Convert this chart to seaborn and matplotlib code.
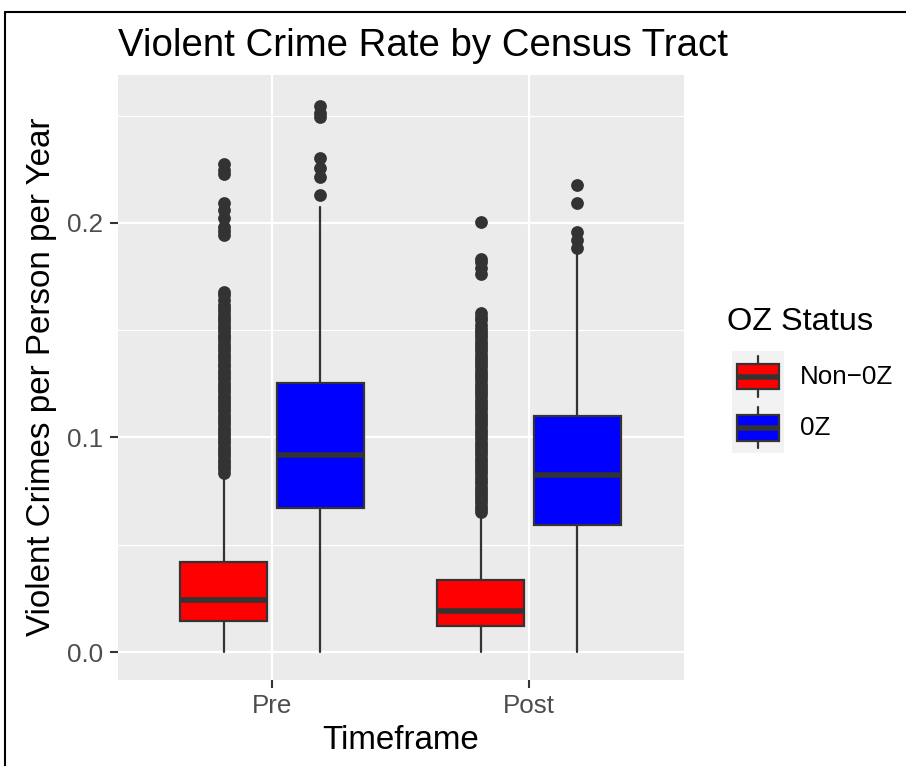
import matplotlib
matplotlib.use("Agg")
import matplotlib.pyplot as plt
from matplotlib.patches import Rectangle
from matplotlib.lines import Line2D
from matplotlib.ticker import FixedLocator
import seaborn as sns

# ---------------- data ----------------
timeframes = ["Pre", "Post"]
oz_levels = ["Non\u22120Z", "0Z"]
oz_colors = ["#FF0000", "#0000FF"]

# box statistics per (timeframe, OZ status)
pre_non_stats = dict(whislo=0.0, q1=0.0143, med=0.0242, q3=0.0420, whishi=0.0815)
pre_oz_stats = dict(whislo=0.0, q1=0.0672, med=0.0918, q3=0.1255, whishi=0.2075)
post_non_stats = dict(whislo=0.0, q1=0.0122, med=0.0192, q3=0.0336, whishi=0.0635)
post_oz_stats = dict(whislo=0.0, q1=0.0594, med=0.0826, q3=0.1098, whishi=0.1865)

# outliers
pre_non_out = [0.0835, 0.0851, 0.0868, 0.0882, 0.0897, 0.0913, 0.0926, 0.0941, 0.0957,
               0.0972, 0.0986, 0.1003, 0.1017, 0.1031, 0.1046, 0.1062, 0.1077, 0.1091,
               0.1104, 0.1121, 0.1136, 0.1149, 0.1166, 0.1181, 0.1194, 0.1211, 0.1226,
               0.1239, 0.1256, 0.1271, 0.1284, 0.1302, 0.1316, 0.1331, 0.1344, 0.1361,
               0.1376, 0.1389, 0.1406, 0.1421, 0.1434, 0.1452, 0.1466, 0.1479, 0.1496,
               0.1511, 0.1524, 0.1542, 0.1556, 0.1571, 0.1587, 0.1602, 0.1618, 0.1641,
               0.1663, 0.1678, 0.1945, 0.1962, 0.1982, 0.2023, 0.2058, 0.2092, 0.2226,
               0.2248, 0.2274]
pre_oz_out = [0.2132, 0.2215, 0.2257, 0.2300, 0.2495, 0.2513, 0.2544]
post_non_out = [0.0652, 0.0666, 0.0681, 0.0697, 0.0711, 0.0726, 0.0742, 0.0756, 0.0771,
                0.0787, 0.0801, 0.0816, 0.0832, 0.0846, 0.0861, 0.0877, 0.0891, 0.0906,
                0.0922, 0.0936, 0.0951, 0.0967, 0.0981, 0.0996, 0.1012, 0.1026, 0.1041,
                0.1057, 0.1071, 0.1086, 0.1102, 0.1116, 0.1131, 0.1147, 0.1161, 0.1176,
                0.1192, 0.1206, 0.1221, 0.1237, 0.1251, 0.1266, 0.1282, 0.1296, 0.1311,
                0.1327, 0.1341, 0.1356, 0.1372, 0.1386, 0.1401, 0.1417, 0.1431, 0.1446,
                0.1462, 0.1476, 0.1492, 0.1507, 0.1524, 0.1546, 0.1563, 0.1581,
                0.1763, 0.1788, 0.1816, 0.1830, 0.2005]
post_oz_out = [0.1883, 0.1921, 0.1958, 0.2093, 0.2176]

y_ticks = [0.0, 0.1, 0.2]
y_tick_labels = ["0.0", "0.1", "0.2"]
y_minor = [0.05, 0.15, 0.25]

# ---------------- style ----------------
sns.set_theme(style="darkgrid", rc={
    "axes.facecolor": "#EBEBEB",
    "grid.color": "white",
    "figure.facecolor": "white",
})
plt.rcParams["font.family"] = ["Liberation Sans", "DejaVu Sans"]

W, H = 906, 766
fig = plt.figure(figsize=(W / 100, H / 100), dpi=100)

px_l, px_r, px_t, px_b = 117.5, 683.5, 75.0, 679.5
ax = fig.add_axes([px_l / W, 1 - px_b / H, (px_r - px_l) / W, (px_b - px_t) / H])

edge = "#333333"
groups = [
    (0, 0, pre_non_stats, pre_non_out),
    (0, 1, pre_oz_stats, pre_oz_out),
    (1, 0, post_non_stats, post_non_out),
    (1, 1, post_oz_stats, post_oz_out),
]
dodge = 0.1875
box_w = 0.3375
for ti, hi, st, outl in groups:
    pos = ti + 1 + (-dodge if hi == 0 else dodge)
    s = dict(st)
    s["fliers"] = outl
    bp = ax.bxp([s], positions=[pos], widths=box_w, patch_artist=True,
                showcaps=False, showfliers=True,
                boxprops=dict(facecolor=oz_colors[hi], edgecolor=edge, linewidth=1.6),
                medianprops=dict(color=edge, linewidth=4.0, solid_capstyle="butt"),
                whiskerprops=dict(color=edge, linewidth=1.6),
                flierprops=dict(marker="o", markerfacecolor=edge, markeredgecolor=edge,
                                markersize=9.2, markeredgewidth=0, linestyle="none"))
    for k in bp:
        for art in bp[k]:
            art.set_zorder(3)

ax.set_xlim(0.4, 2.6)
ax.set_ylim(-0.0128, 0.2689)
ax.xaxis.set_major_locator(FixedLocator([1, 2]))
ax.set_xticklabels(timeframes)
ax.yaxis.set_major_locator(FixedLocator(y_ticks))
ax.set_yticklabels(y_tick_labels)
ax.yaxis.set_minor_locator(FixedLocator(y_minor))
ax.grid(which="major", color="white", linewidth=1.6)
ax.grid(which="minor", axis="y", color="white", linewidth=0.8)
ax.grid(which="minor", axis="x", visible=False)
ax.set_axisbelow(True)
for sp in ax.spines.values():
    sp.set_visible(False)
ax.tick_params(which="major", length=5.8, width=1.5, color=edge, labelcolor="#4D4D4D",
               labelsize=18.7, pad=4.5, bottom=True, left=True)
ax.tick_params(which="minor", length=0)
ax.set_xlabel("Timeframe", fontsize=23.9, color="black", labelpad=5)
ax.set_ylabel("Violent Crimes per Person per Year", fontsize=23.9, color="black", labelpad=7)

# title
fig.text(118 / W, 1 - 56 / H, "Violent Crime Rate by Census Tract", fontsize=27.6,
         ha="left", va="baseline", color="black")

# legend
fig.text(727 / W, 1 - 322 / H, "OZ Status", fontsize=23.4, ha="left", va="center",
         color="black")
lax = fig.add_axes([731.7 / W, 1 - 453.3 / H, 52.3 / W, 102.3 / H])
lax.set_facecolor("#F2F2F2")
lax.set_xlim(0, 1)
lax.set_ylim(0, 2)
lax.grid(False)
lax.set_xticks([])
lax.set_yticks([])
for sp in lax.spines.values():
    sp.set_visible(False)
for i, (lab, col) in enumerate(zip(oz_levels, oz_colors)):
    yb = 1 - i
    lax.add_line(Line2D([0.5, 0.5], [yb + 0.1, yb + 0.9], color=edge, lw=1.6))
    lax.add_patch(Rectangle((0.1, yb + 0.25), 0.8, 0.5, facecolor=col, edgecolor=edge,
                            lw=1.6, zorder=3))
    lax.add_line(Line2D([0.1, 0.9], [yb + 0.5, yb + 0.5], color=edge, lw=4.0,
                        solid_capstyle="butt", zorder=4))
    fig.text(800 / W, 1 - (377 + 51 * i) / H, lab, fontsize=18.7, ha="left",
             va="center", color="black")

# outer border (left and top edges of a frame)
fig.add_artist(Line2D([5 / W, 5 / W], [0, 1 - 12 / H], transform=fig.transFigure,
                      color="black", lw=1.5))
fig.add_artist(Line2D([5 / W, 1], [1 - 12 / H, 1 - 12 / H], transform=fig.transFigure,
                      color="black", lw=1.5))

fig.savefig("out.png", dpi=100)
